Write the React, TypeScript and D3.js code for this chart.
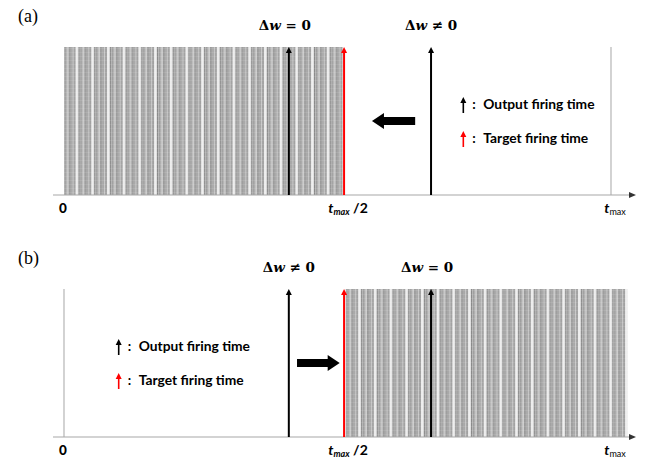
import React from 'react'
import * as d3 from 'd3'

// time axis is in units of t_max
const panelNames = ['(a)', '(b)']
const targetTime = 0.512
const outputTimes = [0.411, 0.671]
const deltaLabels = [
  ['Δw = 0', 'Δw ≠ 0'],
  ['Δw ≠ 0', 'Δw = 0'],
]
const hatchRanges = [
  [0, 0.51],
  [0.515, 1.03],
]
const boundaryTimes = [1, 0]
const shiftArrows = [
  [0.642, 0.563],
  [0.426, 0.504],
]
const legendTimes = [0.73, 0.1]
const legendLabels = ['Output firing time', 'Target firing time']
const tickTimes = [0, 0.5, 1]

const W = 648
const H = 459
const panelTops = [47, 289]
const panelH = 148

const x = d3.scaleLinear().domain([0, 1]).range([64, 611])
const y = d3.scaleLinear().domain([0, 1]).range([panelH, 0])

const labelFont = 'Lato, "Open Sans", sans-serif'
const mathFont = '"DejaVu Serif", "Liberation Serif", serif'

function Arrow({ x0, y0, y1, color, width = 2, head = 6 }: any) {
  return (
    <g>
      <line x1={x0} x2={x0} y1={y0} y2={y1 + head - 1} stroke={color} strokeWidth={width} />
      <path d={`M${x0 - head / 2},${y1 + head} L${x0},${y1} L${x0 + head / 2},${y1 + head} Z`} fill={color} />
    </g>
  )
}

function TickLabel({ t, i }: { t: number; i: number }) {
  const cx = x(t)
  if (i === 0)
    return (
      <text x={cx - 1} y={166} textAnchor="middle" fontFamily={labelFont} fontWeight="900" fontSize={13.5}>0</text>
    )
  if (i === 1)
    return (
      <text x={x(targetTime) + 4} y={166} textAnchor="middle" fontFamily={labelFont} fontWeight="bold" fontSize={14}>
        <tspan fontStyle="italic">t</tspan>
        <tspan fontStyle="italic" fontSize={9} dy={2}>max</tspan>
        <tspan dy={-2}> /2</tspan>
      </text>
    )
  return (
    <text x={cx + 4} y={166} textAnchor="middle" fontFamily={labelFont} fontWeight="bold" fontSize={14}>
      <tspan fontStyle="italic">t</tspan>
      <tspan fontSize={9} fontWeight="normal" dy={2}>max</tspan>
    </text>
  )
}

function Panel({ idx }: { idx: number }) {
  const top = panelTops[idx]
  const [h0, h1] = hatchRanges[idx]
  const [s0, s1] = shiftArrows[idx]
  const sy = y(0.5)
  const dir = Math.sign(x(s1) - x(s0))
  const headLen = 12
  const lx = x(legendTimes[idx])
  return (
    <g transform={`translate(0,${top})`}>
      <text x={18} y={-25} fontFamily='"Liberation Serif", "Times New Roman", serif' fontSize={18}>{panelNames[idx]}</text>
      <rect x={x(h0)} y={y(1)} width={x(h1) - x(h0)} height={panelH} fill="url(#hatch)" />
      <line x1={x(boundaryTimes[idx])} x2={x(boundaryTimes[idx])} y1={y(1)} y2={y(0)} stroke="#b5b5b5" strokeWidth={1.2} />
      {/* time axis */}
      <line x1={53} x2={630} y1={y(0)} y2={y(0)} stroke="#a8a8a8" strokeWidth={1.2} />
      <path d={`M636,${y(0)} L629,${y(0) - 3} L629,${y(0) + 3} Z`} fill="#333" />
      {/* firing times */}
      {outputTimes.map((t, i) => (
        <g key={i}>
          <Arrow x0={x(t)} y0={y(0)} y1={y(1)} color="#000" width={2} head={6} />
          <text x={x(t) - (deltaLabels[idx][i].includes('≠') ? 0 : 4)} y={-17} textAnchor="middle" fontFamily={mathFont} fontWeight="bold" fontSize={13.5}>
            <tspan>Δ</tspan>
            <tspan fontStyle="italic">w</tspan>
            <tspan>{deltaLabels[idx][i].slice(2)}</tspan>
          </text>
        </g>
      ))}
      <Arrow x0={x(targetTime)} y0={y(0)} y1={y(1)} color="#ff0000" width={2} head={6} />
      {/* shift arrow */}
      <path
        d={`M${x(s0)},${sy - 4} L${x(s1) - dir * headLen},${sy - 4} L${x(s1) - dir * headLen},${sy - 8} L${x(s1)},${sy} L${x(s1) - dir * headLen},${sy + 8} L${x(s1) - dir * headLen},${sy + 4} L${x(s0)},${sy + 4} Z`}
        fill="#000"
      />
      {/* legend */}
      {legendLabels.map((lab, i) => (
        <g key={lab} transform={`translate(${lx},${58 + i * 34})`}>
          <Arrow x0={0} y0={8} y1={-8} color={i === 0 ? '#000' : '#ff0000'} width={1.6} head={6} />
          <text x={9} y={4} fontFamily={labelFont} fontWeight="bold" fontSize={13.5}>:</text>
          <text x={20} y={4} fontFamily={labelFont} fontWeight="bold" fontSize={13.8}>{lab}</text>
        </g>
      ))}
      {tickTimes.map((t, i) => (
        <TickLabel key={i} t={t} i={i} />
      ))}
    </g>
  )
}

export default function App() {
  return (
    <svg width={W} height={H} style={{ position: 'absolute', left: 0, top: 0, background: '#fff' }}>
      <defs>
        <pattern id="hatch" patternUnits="userSpaceOnUse" width={15.7} height={4}>
          <rect width={15.7} height={4} fill="#b8b8b8" />
          <rect x={0} width={1} height={4} fill="#8a8a8a" />
          <rect x={2.2} width={1} height={4} fill="#969696" />
          <rect x={4.5} width={1.2} height={4} fill="#d4d4d4" />
          <rect x={6.3} width={1} height={4} fill="#858585" />
          <rect x={8.4} width={1} height={4} fill="#9c9c9c" />
          <rect x={10} width={1} height={4} fill="#cccccc" />
          <rect x={11.3} width={1} height={4} fill="#8e8e8e" />
          <rect x={12.8} width={2.6} height={4} fill="#efefef" />
          <rect x={0} y={1} width={15.7} height={0.6} fill="#ffffff" opacity={0.15} />
        </pattern>
      </defs>
      {panelNames.map((_, i) => (
        <Panel key={i} idx={i} />
      ))}
    </svg>
  )
}
